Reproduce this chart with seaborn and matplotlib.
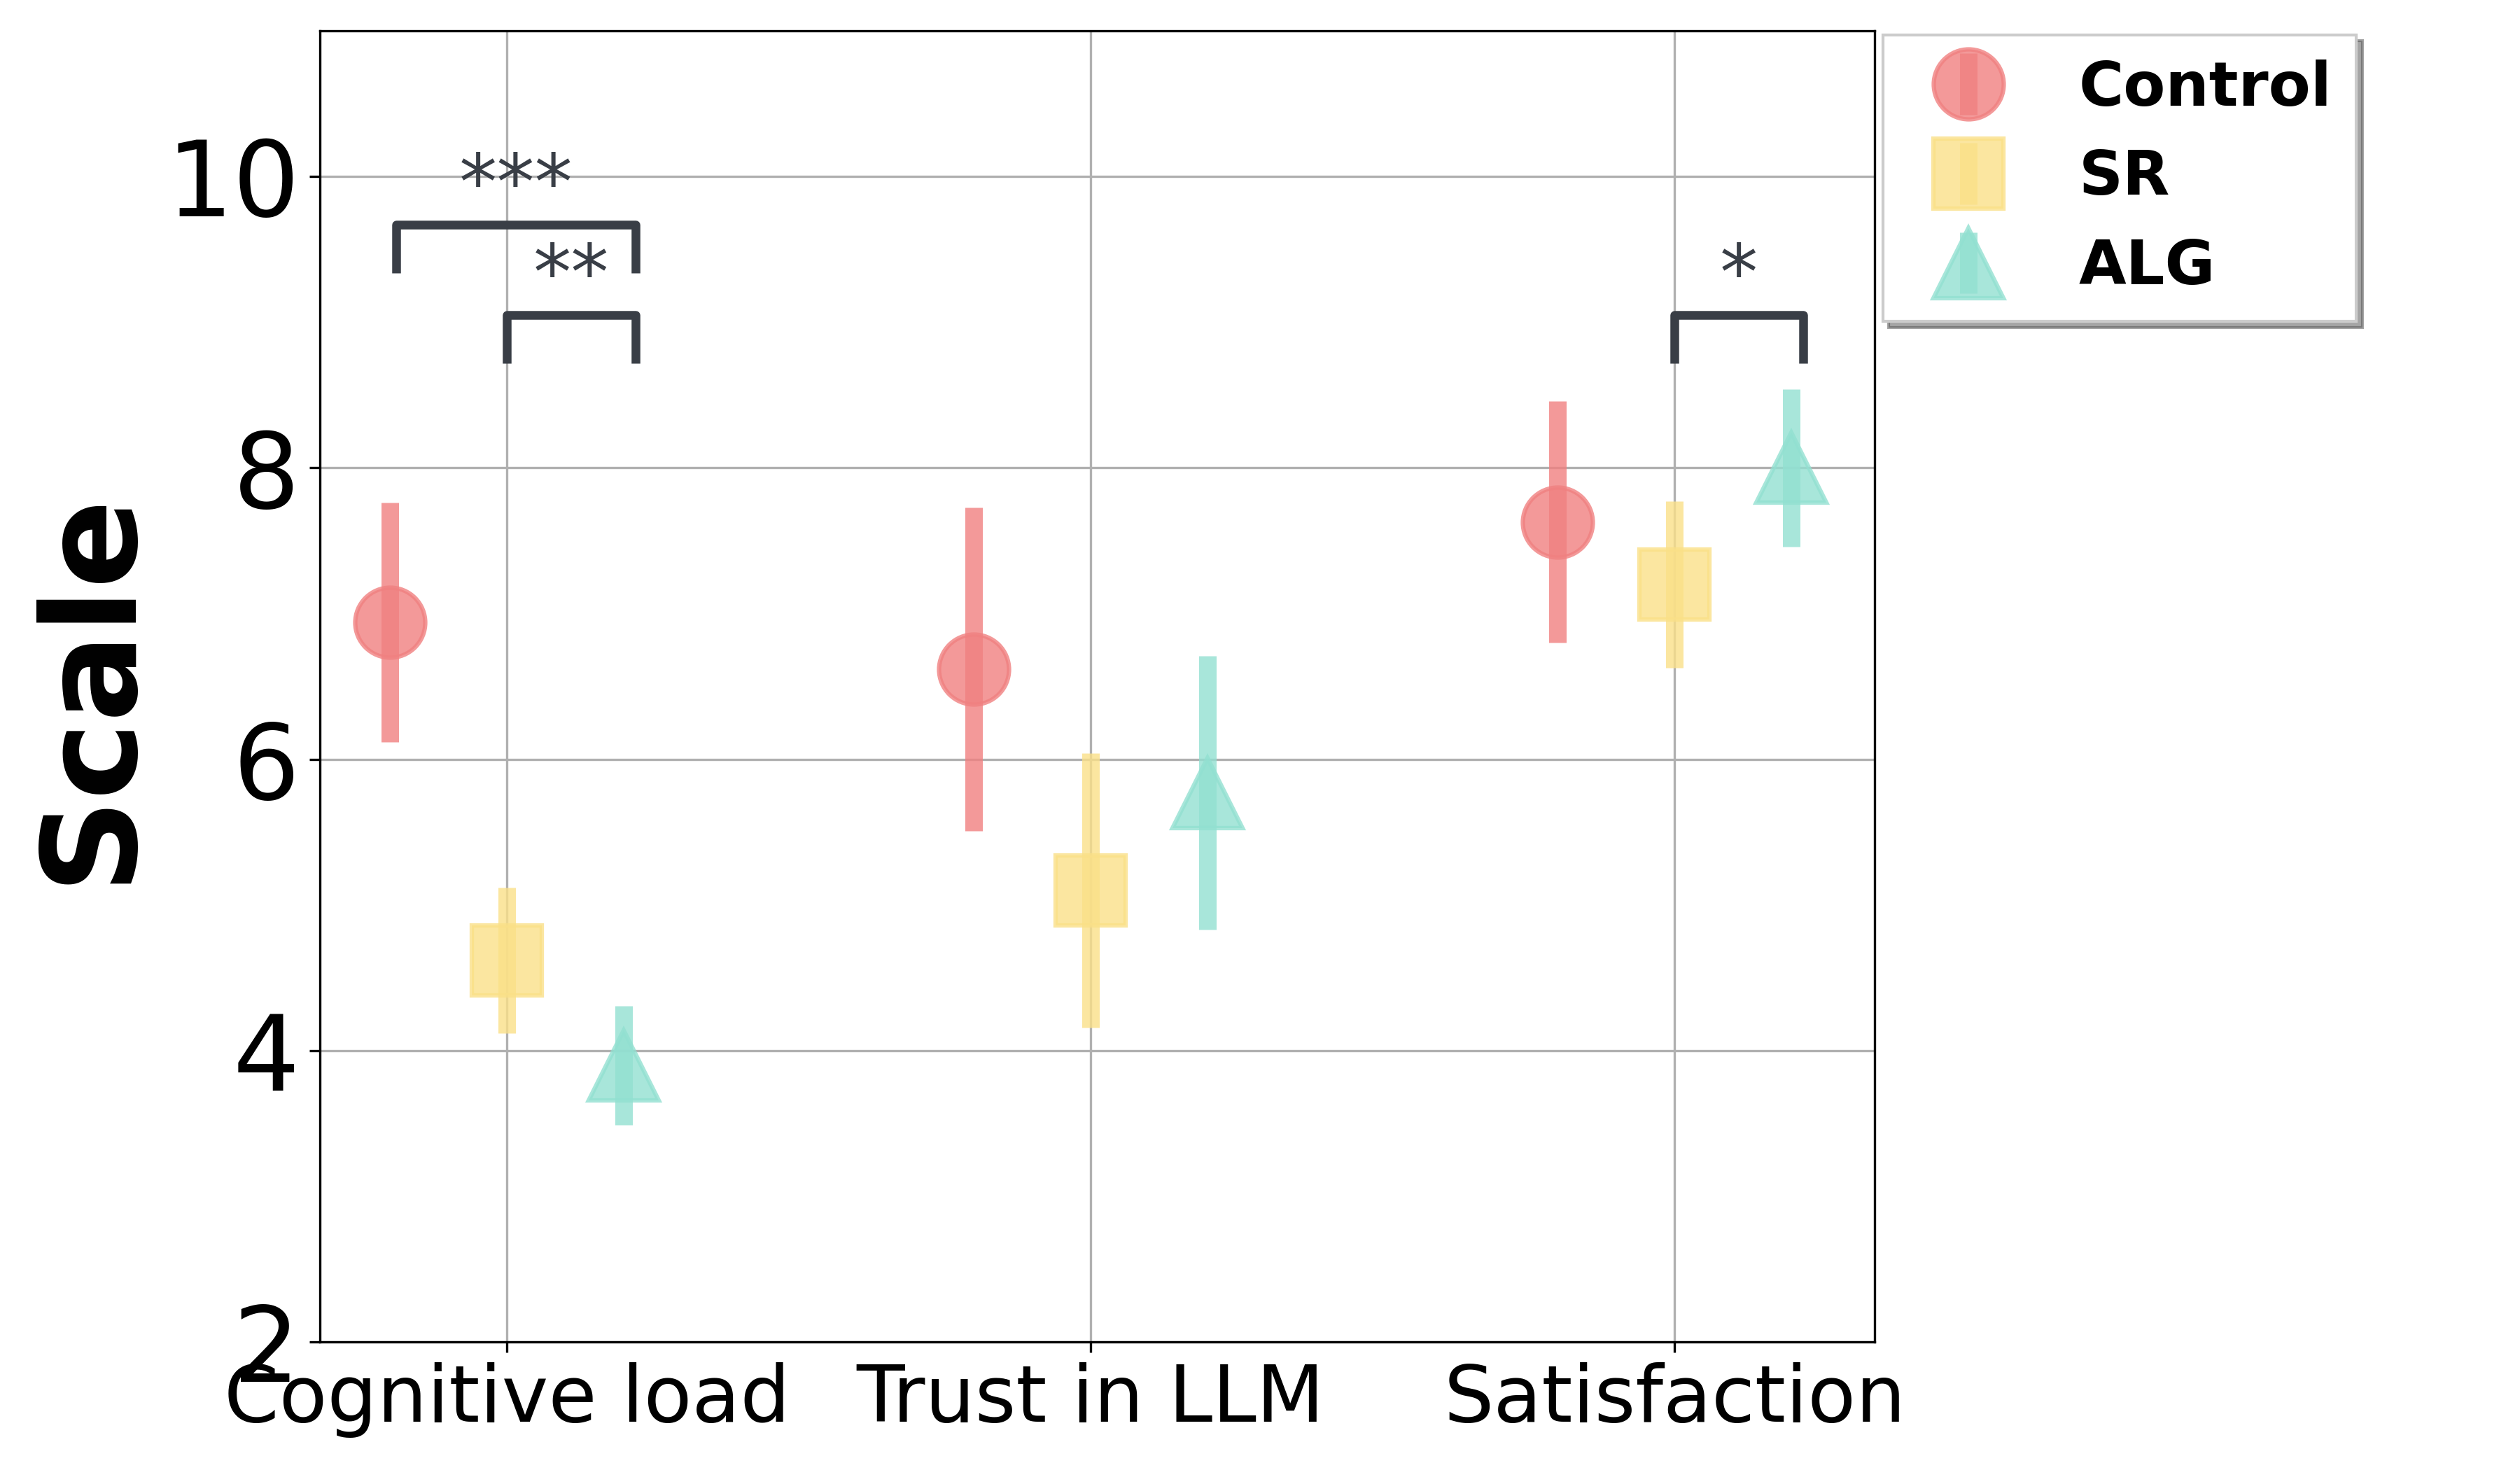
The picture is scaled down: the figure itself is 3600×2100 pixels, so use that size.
import matplotlib
matplotlib.use("Agg")
import matplotlib.pyplot as plt
import seaborn as sns
import numpy as np

# values
categories = ["Cognitive load", "Trust in LLM", "Satisfaction"]
groups = ["Control", "SR", "ALG"]
control_mean = [6.94, 6.62, 7.63]
control_err = [0.82, 1.11, 0.83]
sr_mean = [4.62, 5.10, 7.20]
sr_err = [0.50, 0.94, 0.57]
alg_mean = [3.90, 5.77, 8.00]
alg_err = [0.41, 0.94, 0.54]

# significance brackets: (x left, x right, y, label)
sig_x1 = [-0.19, 0.0, 2.0]
sig_x2 = [0.22, 0.22, 2.22]
sig_y = [9.67, 9.05, 9.05]
sig_label = ["***", "**", "*"]

sns.set_style("ticks", {
    "axes.grid": True,
    "grid.color": "#b0b0b0",
    "axes.edgecolor": "black",
    "axes.labelcolor": "black",
    "text.color": "black",
    "xtick.color": "black",
    "ytick.color": "black",
    "axes.linewidth": 0.8,
})
plt.rcParams["font.family"] = ["DejaVu Sans"]

palette = sns.color_palette(["#F08080", "#FAE088", "#92E0D1"])
markers = ["o", "s", "^"]
means = [control_mean, sr_mean, alg_mean]
errs = [control_err, sr_err, alg_err]
offsets = [-0.2, 0.0, 0.2]

fig, ax = plt.subplots(figsize=(12, 7), dpi=300)
fig.subplots_adjust(left=0.127, right=0.744, top=0.979, bottom=0.087)

x = np.arange(len(categories))
for g, m, e, c, mk, off in zip(groups, means, errs, palette, markers, offsets):
    ax.errorbar(x + off, m, yerr=e, fmt=mk, color=c, ms=24, mew=1.5,
                elinewidth=6, capsize=0, alpha=0.8, label=g)

for x1, x2, y, lab in zip(sig_x1, sig_x2, sig_y, sig_label):
    h = 0.33
    ax.plot([x1, x1, x2, x2], [y - h, y, y, y - h], color="#393E46", lw=3,
            solid_joinstyle="round", solid_capstyle="butt")
    ax.text((x1 + x2) / 2, y, lab, ha="center", va="bottom",
            fontsize=26, color="#393E46")

ax.set_xticks(x)
ax.set_xticklabels(categories, fontsize=27, color="black")
ax.set_xlim(-0.32, 2.343)
ax.set_ylim(2, 11)
ax.set_yticks([2, 4, 6, 8, 10])
ax.tick_params(axis="y", labelsize=36, labelcolor="black")
ax.set_ylabel("Scale", fontsize=45, fontweight="bold", color="black")
ax.grid(True, color="#b0b0b0", lw=0.8)

leg = ax.legend(loc="upper left", bbox_to_anchor=(1.005, 0.997), borderaxespad=0,
                fancybox=False, shadow=True, framealpha=1,
                prop={"weight": "bold", "size": 21})
for t in leg.get_texts():
    t.set_color("black")

plt.savefig("out.png", dpi=300)
plt.close()
